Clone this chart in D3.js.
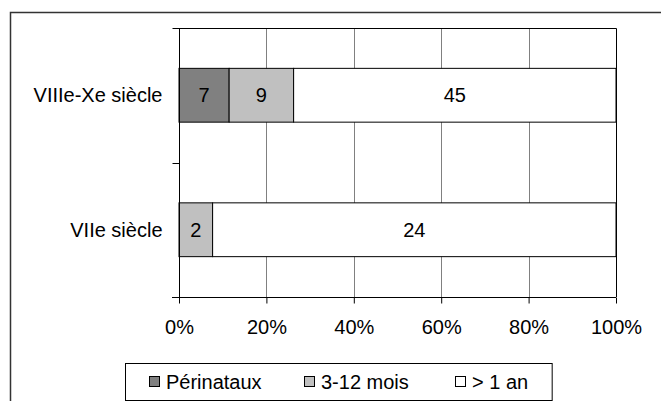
<!DOCTYPE html>
<html><head><meta charset="utf-8">
<script src="https://cdn.jsdelivr.net/npm/d3@7"></script>
<style>
html,body{margin:0;padding:0;background:#fff;}
svg{display:block;}
text{font-family:"Liberation Sans",Arial,sans-serif;fill:#000;}
</style></head>
<body>
<svg id="chart" width="661" height="401"></svg>
<script>
const categories = ["VIIIe-Xe siècle", "VIIe siècle"];
const seriesNames = ["Périnataux", "3-12 mois", "> 1 an"];
const perinataux = [7, 0];
const mois3a12 = [9, 2];
const plusUnAn = [45, 24];
const tickLabels = ["0%", "20%", "40%", "60%", "80%", "100%"];
const colors = ["#808080", "#c0c0c0", "#ffffff"];

const svg = d3.select("#chart");
const fs = 20;

// outer chart frame
svg.append("path")
  .attr("d", "M10.5,402 V12.5 H662")
  .attr("fill", "none").attr("stroke", "#333").attr("stroke-width", 1.5);

const pL = 179, pR = 616, pT = 28, pB = 297;
const x = d3.scaleLinear().domain([0, 1]).range([pL, pR]);
const y = d3.scaleBand().domain(categories).range([pT, pB]).paddingInner(0.6).paddingOuter(0.3);

const rows = categories.map((c, i) => {
  const vals = [perinataux[i], mois3a12[i], plusUnAn[i]];
  const o = {cat: c};
  seriesNames.forEach((s, j) => o[s] = vals[j]);
  return o;
});
const stack = d3.stack().keys(seriesNames).offset(d3.stackOffsetExpand);
const layers = stack(rows);

// gridlines
svg.append("g").selectAll("line").data([0.2, 0.4, 0.6, 0.8]).join("line")
  .attr("x1", d => Math.round(x(d)) + 0.5).attr("x2", d => Math.round(x(d)) + 0.5)
  .attr("y1", pT).attr("y2", pB)
  .attr("stroke", "#808080").attr("stroke-width", 1);

// plot border top/right
svg.append("path")
  .attr("d", `M${pL},${pT + 0.5} H${pR + 0.5} V${pB}`)
  .attr("fill", "none").attr("stroke", "#000").attr("stroke-width", 1);

// bars
const g = svg.append("g");
layers.forEach((layer, j) => {
  const data = layer.filter(d => d.data[seriesNames[j]] > 0);
  g.selectAll(null).data(data).join("rect")
    .attr("x", d => x(d[0])).attr("width", d => x(d[1]) - x(d[0]))
    .attr("y", d => y(d.data.cat)).attr("height", y.bandwidth())
    .attr("fill", colors[j]).attr("stroke", "#000").attr("stroke-width", 1);
  g.selectAll(null).data(data).join("text")
    .attr("x", d => (x(d[0]) + x(d[1])) / 2)
    .attr("y", d => y(d.data.cat) + y.bandwidth() / 2)
    .attr("text-anchor", "middle").attr("dominant-baseline", "central")
    .attr("font-size", fs)
    .text(d => d.data[seriesNames[j]]);
});

// x axis
const xAxis = d3.axisBottom(x).tickValues([0, 0.2, 0.4, 0.6, 0.8, 1])
  .tickFormat((d, i) => tickLabels[i]).tickSize(6).tickPadding(16);
const gx = svg.append("g").attr("transform", `translate(0,${pB + 0.5})`).call(xAxis);
gx.select(".domain").attr("d", `M${pL - 7},0H${pR}`).attr("stroke", "#000");
gx.selectAll(".tick line").attr("stroke", "#000");
gx.selectAll(".tick text").attr("font-size", fs).attr("font-family", "Liberation Sans, Arial, sans-serif").attr("fill", "#000");

// y axis with ticks at category boundaries
const gy = svg.append("g").attr("transform", `translate(${pL + 0.5},0)`);
gy.append("line").attr("x1", 0).attr("x2", 0).attr("y1", pT).attr("y2", pB + 6).attr("stroke", "#000");
const bounds = [pT, pT + y.step(), pB];
gy.selectAll(".yt").data(bounds).join("line").attr("class", "yt")
  .attr("x1", -7).attr("x2", 0).attr("y1", d => Math.round(d) + 0.5).attr("y2", d => Math.round(d) + 0.5)
  .attr("stroke", "#000");
gy.selectAll(".yl").data(categories).join("text").attr("class", "yl")
  .attr("x", -17).attr("y", d => y(d) + y.bandwidth() / 2)
  .attr("text-anchor", "end").attr("dominant-baseline", "central")
  .attr("font-size", fs).text(d => d);

// legend
const lg = svg.append("g");
const legX = 125.5, legY = 363.5, legH = 37;
const itemX = [149, 304, 455];
const items = lg.selectAll("g").data(seriesNames).join("g")
  .attr("transform", (d, i) => `translate(${itemX[i]},${legY + legH / 2})`);
items.append("rect").attr("x", 0.5).attr("y", -5.5).attr("width", 10).attr("height", 10)
  .attr("fill", (d, i) => colors[i]).attr("stroke", "#000");
items.append("text").attr("x", 17).attr("y", 0).attr("dominant-baseline", "central")
  .attr("font-size", fs).text(d => d);
let maxR = 0;
items.each(function (d, i) {
  const b = d3.select(this).select("text").node().getBBox();
  maxR = Math.max(maxR, itemX[i] + b.x + b.width);
});
lg.insert("rect", ":first-child").attr("x", legX).attr("y", legY)
  .attr("width", maxR + 24 - legX).attr("height", legH)
  .attr("fill", "#fff").attr("stroke", "#000");
</script>
</body></html>
